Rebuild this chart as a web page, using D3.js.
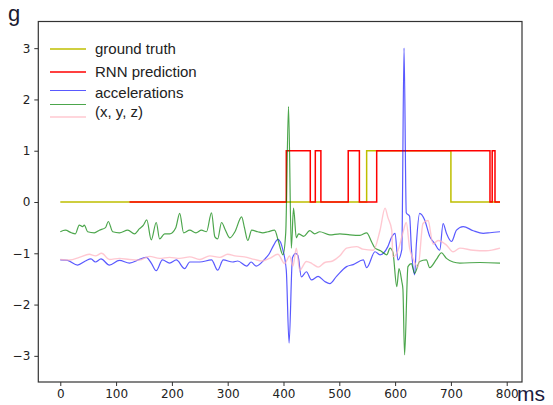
<!DOCTYPE html>
<html>
<head>
<meta charset="utf-8">
<script src="https://d3js.org/d3.v7.min.js"></script>
<style>
    body { margin: 0; background: white; }
    .tick text { font-family: "DejaVu Sans", sans-serif; font-size: 12px; fill: #222; }
</style>
</head>
<body>
<svg id="mainSvg" width="553" height="405"></svg>
<script>
window.addEventListener("load", drawChart);

// ground truth and RNN prediction: change points (ms) and the level that starts there
var truthTimes = [0, 549, 700, 788];
var truthValues = [0, 1, 0, 0];
var predTimes = [124, 405, 448, 457, 467, 516, 536, 567, 770, 774, 779, 788];
var predValues = [0, 1, 0, 1, 0, 1, 0, 1, 0, 1, 0, 0];

// accelerations (g), one time array per series
var blueTimes = [0, 13, 31, 45, 55, 63, 73, 88, 106, 124, 142, 154, 163, 172, 183, 196, 208, 223, 232, 250,
    271, 282, 292, 309, 318, 334, 342, 351, 366, 375, 382, 390, 399, 405, 410, 416, 422, 426, 432, 441,
    450, 462, 474, 483, 495, 513, 525, 543, 549, 564, 573, 587, 594, 600, 605, 612, 616, 620, 626, 629,
    635, 638, 644, 653, 662, 671, 680, 686, 692, 701, 710, 722, 740, 758, 770, 788];
var blueValues = [-1.13, -1.14, -1.23, -1.15, -1.11, -1.17, -1.11, -1.23, -1.14, -1.19, -1.12, -1.08, -1.19, -1.34, -1.13, -1.19, -1.13, -1.30, -1.17, -1.17,
    -1.13, -1.33, -1.13, -1.17, -1.15, -1.25, -1.17, -1.25, -1.12, -1.00, -0.85, -0.73, -0.94, -1.33, -2.75, -1.09, -1.00, -1.05, -1.46, -1.36,
    -1.52, -1.45, -1.55, -1.59, -1.45, -1.26, -1.22, -1.13, -1.28, -0.97, -1.03, -0.87, -0.68, -0.61, -1.13, -0.93, 3.00, -0.21, -0.28, -0.87,
    -1.42, -0.84, -0.22, -0.35, -0.67, -0.81, -0.94, -0.42, -0.61, -0.77, -0.55, -0.48, -0.56, -0.61, -0.60, -0.58];

var greenTimes = [0, 9, 20, 27, 34, 40, 43, 49, 61, 70, 81, 86, 94, 106, 121, 133, 142, 149, 155, 163,
    172, 178, 187, 196, 207, 214, 221, 232, 243, 253, 262, 271, 277, 282, 289, 296, 304, 313, 325, 330,
    336, 343, 354, 363, 372, 384, 391, 399, 404, 409, 414, 418, 423, 427, 436, 447, 456, 465, 483, 501,
    519, 537, 549, 558, 564, 574, 585, 591, 596, 603, 607, 612, 614, 617, 623, 629, 635, 644, 656, 662,
    674, 683, 692, 704, 716, 752, 788];
var greenValues = [-0.58, -0.55, -0.60, -0.62, -0.45, -0.48, -0.45, -0.58, -0.60, -0.55, -0.50, -0.38, -0.58, -0.60, -0.55, -0.62, -0.52, -0.45, -0.35, -0.74,
    -0.40, -0.72, -0.62, -0.62, -0.50, -0.22, -0.60, -0.55, -0.60, -0.55, -0.58, -0.21, -0.68, -0.72, -0.40, -0.55, -0.70, -0.58, -0.29, -0.50,
    -0.75, -0.55, -0.58, -0.60, -0.58, -0.55, -0.77, -1.03, -0.60, 1.86, -0.90, -0.12, -0.70, -0.62, -0.67, -0.56, -0.62, -0.58, -0.64, -0.62,
    -0.64, -0.65, -0.60, -0.78, -0.90, -0.95, -1.03, -0.90, -0.98, -1.65, -1.30, -1.55, -1.70, -2.98, -1.26, -1.20, -1.39, -1.16, -1.13, -1.28,
    -1.12, -0.99, -1.10, -1.17, -1.19, -1.18, -1.19];

var pinkTimes = [0, 17, 34, 52, 63, 74, 88, 106, 124, 142, 160, 178, 196, 214, 232, 250, 268, 286, 300, 313,
    330, 348, 361, 375, 390, 402, 411, 417, 423, 429, 441, 451, 462, 474, 488, 501, 513, 531, 542, 561,
    573, 582, 587, 594, 596, 605, 614, 620, 626, 632, 641, 650, 659, 668, 677, 692, 704, 716, 740, 763, 788];
var pinkValues = [-1.12, -1.13, -1.08, -1.02, -1.05, -1.00, -1.12, -1.10, -1.12, -1.13, -1.06, -1.10, -1.08, -1.10, -1.07, -1.12, -1.05, -1.08, -1.02, -1.05,
    -1.07, -1.12, -1.15, -1.10, -1.02, -1.20, -1.05, -1.25, -0.90, -1.33, -1.16, -1.20, -1.27, -1.18, -1.15, -1.05, -0.90, -0.87, -0.92, -0.94,
    -0.55, -0.12, -0.30, -0.55, -1.07, -0.95, -0.60, -0.40, -0.90, -1.10, -1.27, -0.42, -0.36, -0.82, -0.75, -0.84, -0.97, -0.90, -0.94, -0.95, -0.90];

var xTicks = [0, 100, 200, 300, 400, 500, 600, 700, 800];
var yTicks = [-3, -2, -1, 0, 1, 2, 3];

var legendLabels = ["ground truth", "RNN prediction", "accelerations", "(x, y, z)"];

var truthColor = "#bfbf00";
var predColor = "#ff0000";
var blueColor = "rgba(0, 0, 255, 0.65)";
var greenColor = "rgba(0, 128, 0, 0.7)";
var pinkColor = "rgba(255, 182, 193, 0.75)";
var frameColor = "#333";

/**
 * zip a time array and a value array into points
 */
function zipSeries(times, values)
{
    return times.map((t, i) => [t, values[i]]);
}

function drawChart()
{
    const svg = d3.select("#mainSvg");
    svg.selectAll("*").remove();
    const box = {left: 38.3, right: 522, top: 21.5, bottom: 382};

    const xScale = d3.scaleLinear().domain([-39.4, 827.4]).range([box.left, box.right]);
    const yScale = d3.scaleLinear().domain([-3.51, 3.52]).range([box.bottom, box.top]);

    const stepLine = d3.line().curve(d3.curveStepAfter)
        .x(d => xScale(d[0])).y(d => yScale(d[1]));
    // sensor traces are densely sampled, smooth them a little
    const smoothLine = d3.line().curve(d3.curveMonotoneX)
        .x(d => xScale(d[0])).y(d => yScale(d[1]));

    const plot = svg.append("g");
    // order as in the legend
    plot.append("path").datum(zipSeries(truthTimes, truthValues))
        .attr("d", stepLine).attr("fill", "none")
        .attr("stroke", truthColor).attr("stroke-width", 1.5);
    plot.append("path").datum(zipSeries(predTimes, predValues))
        .attr("d", stepLine).attr("fill", "none")
        .attr("stroke", predColor).attr("stroke-width", 1.5);
    plot.append("path").datum(zipSeries(blueTimes, blueValues))
        .attr("d", smoothLine).attr("fill", "none")
        .attr("stroke", blueColor).attr("stroke-width", 1.2);
    plot.append("path").datum(zipSeries(greenTimes, greenValues))
        .attr("d", smoothLine).attr("fill", "none")
        .attr("stroke", greenColor).attr("stroke-width", 1.2);
    plot.append("path").datum(zipSeries(pinkTimes, pinkValues))
        .attr("d", smoothLine).attr("fill", "none")
        .attr("stroke", pinkColor).attr("stroke-width", 1.4);

    // axes
    const xAxis = svg.append("g")
        .attr("transform", `translate(0, ${box.bottom})`)
        .call(d3.axisBottom(xScale).tickValues(xTicks).tickSize(4).tickPadding(3));
    const yAxis = svg.append("g")
        .attr("transform", `translate(${box.left}, 0)`)
        .call(d3.axisLeft(yScale).tickValues(yTicks).tickSize(4).tickPadding(4)
            .tickFormat(d => d < 0 ? "\u2212" + Math.abs(d) : d));
    [xAxis, yAxis].forEach(g => {
        g.select(".domain").remove();
        g.selectAll(".tick line").attr("stroke", frameColor).attr("stroke-width", 1);
    });

    // frame
    svg.append("rect")
        .attr("x", box.left).attr("y", box.top)
        .attr("width", box.right - box.left).attr("height", box.bottom - box.top)
        .attr("fill", "none").attr("stroke", frameColor).attr("stroke-width", 1.2);

    // unit labels
    svg.append("text").text("g")
        .attr("x", 8).attr("y", 21)
        .attr("font-family", "Liberation Sans, Arial, sans-serif").attr("font-size", 22)
        .attr("fill", "#1a1a30");
    svg.append("text").text("ms")
        .attr("x", 517).attr("y", 401)
        .attr("font-family", "Liberation Sans, Arial, sans-serif").attr("font-size", 21)
        .attr("fill", "#1a1a40");

    // legend
    const legend = svg.append("g");
    const legendLines = [
        {color: truthColor, y: 49, w: 1.5},
        {color: predColor, y: 72, w: 1.5},
        {color: blueColor, y: 90.5, w: 1.2},
        {color: greenColor, y: 104.5, w: 1.2},
        {color: pinkColor, y: 117, w: 1.5}
    ];
    legend.selectAll("line").data(legendLines).join("line")
        .attr("x1", 50).attr("x2", 86)
        .attr("y1", d => d.y).attr("y2", d => d.y)
        .attr("stroke", d => d.color).attr("stroke-width", d => d.w);
    const labelY = [49, 72, 92.5, 112];
    legend.selectAll("text").data(legendLabels).join("text")
        .text(d => d)
        .attr("x", 95).attr("y", (d, i) => labelY[i])
        .attr("dy", "0.35em")
        .attr("font-family", "Liberation Sans, Arial, sans-serif").attr("font-size", 15)
        .attr("fill", "#222");
}
</script>
</body>
</html>
